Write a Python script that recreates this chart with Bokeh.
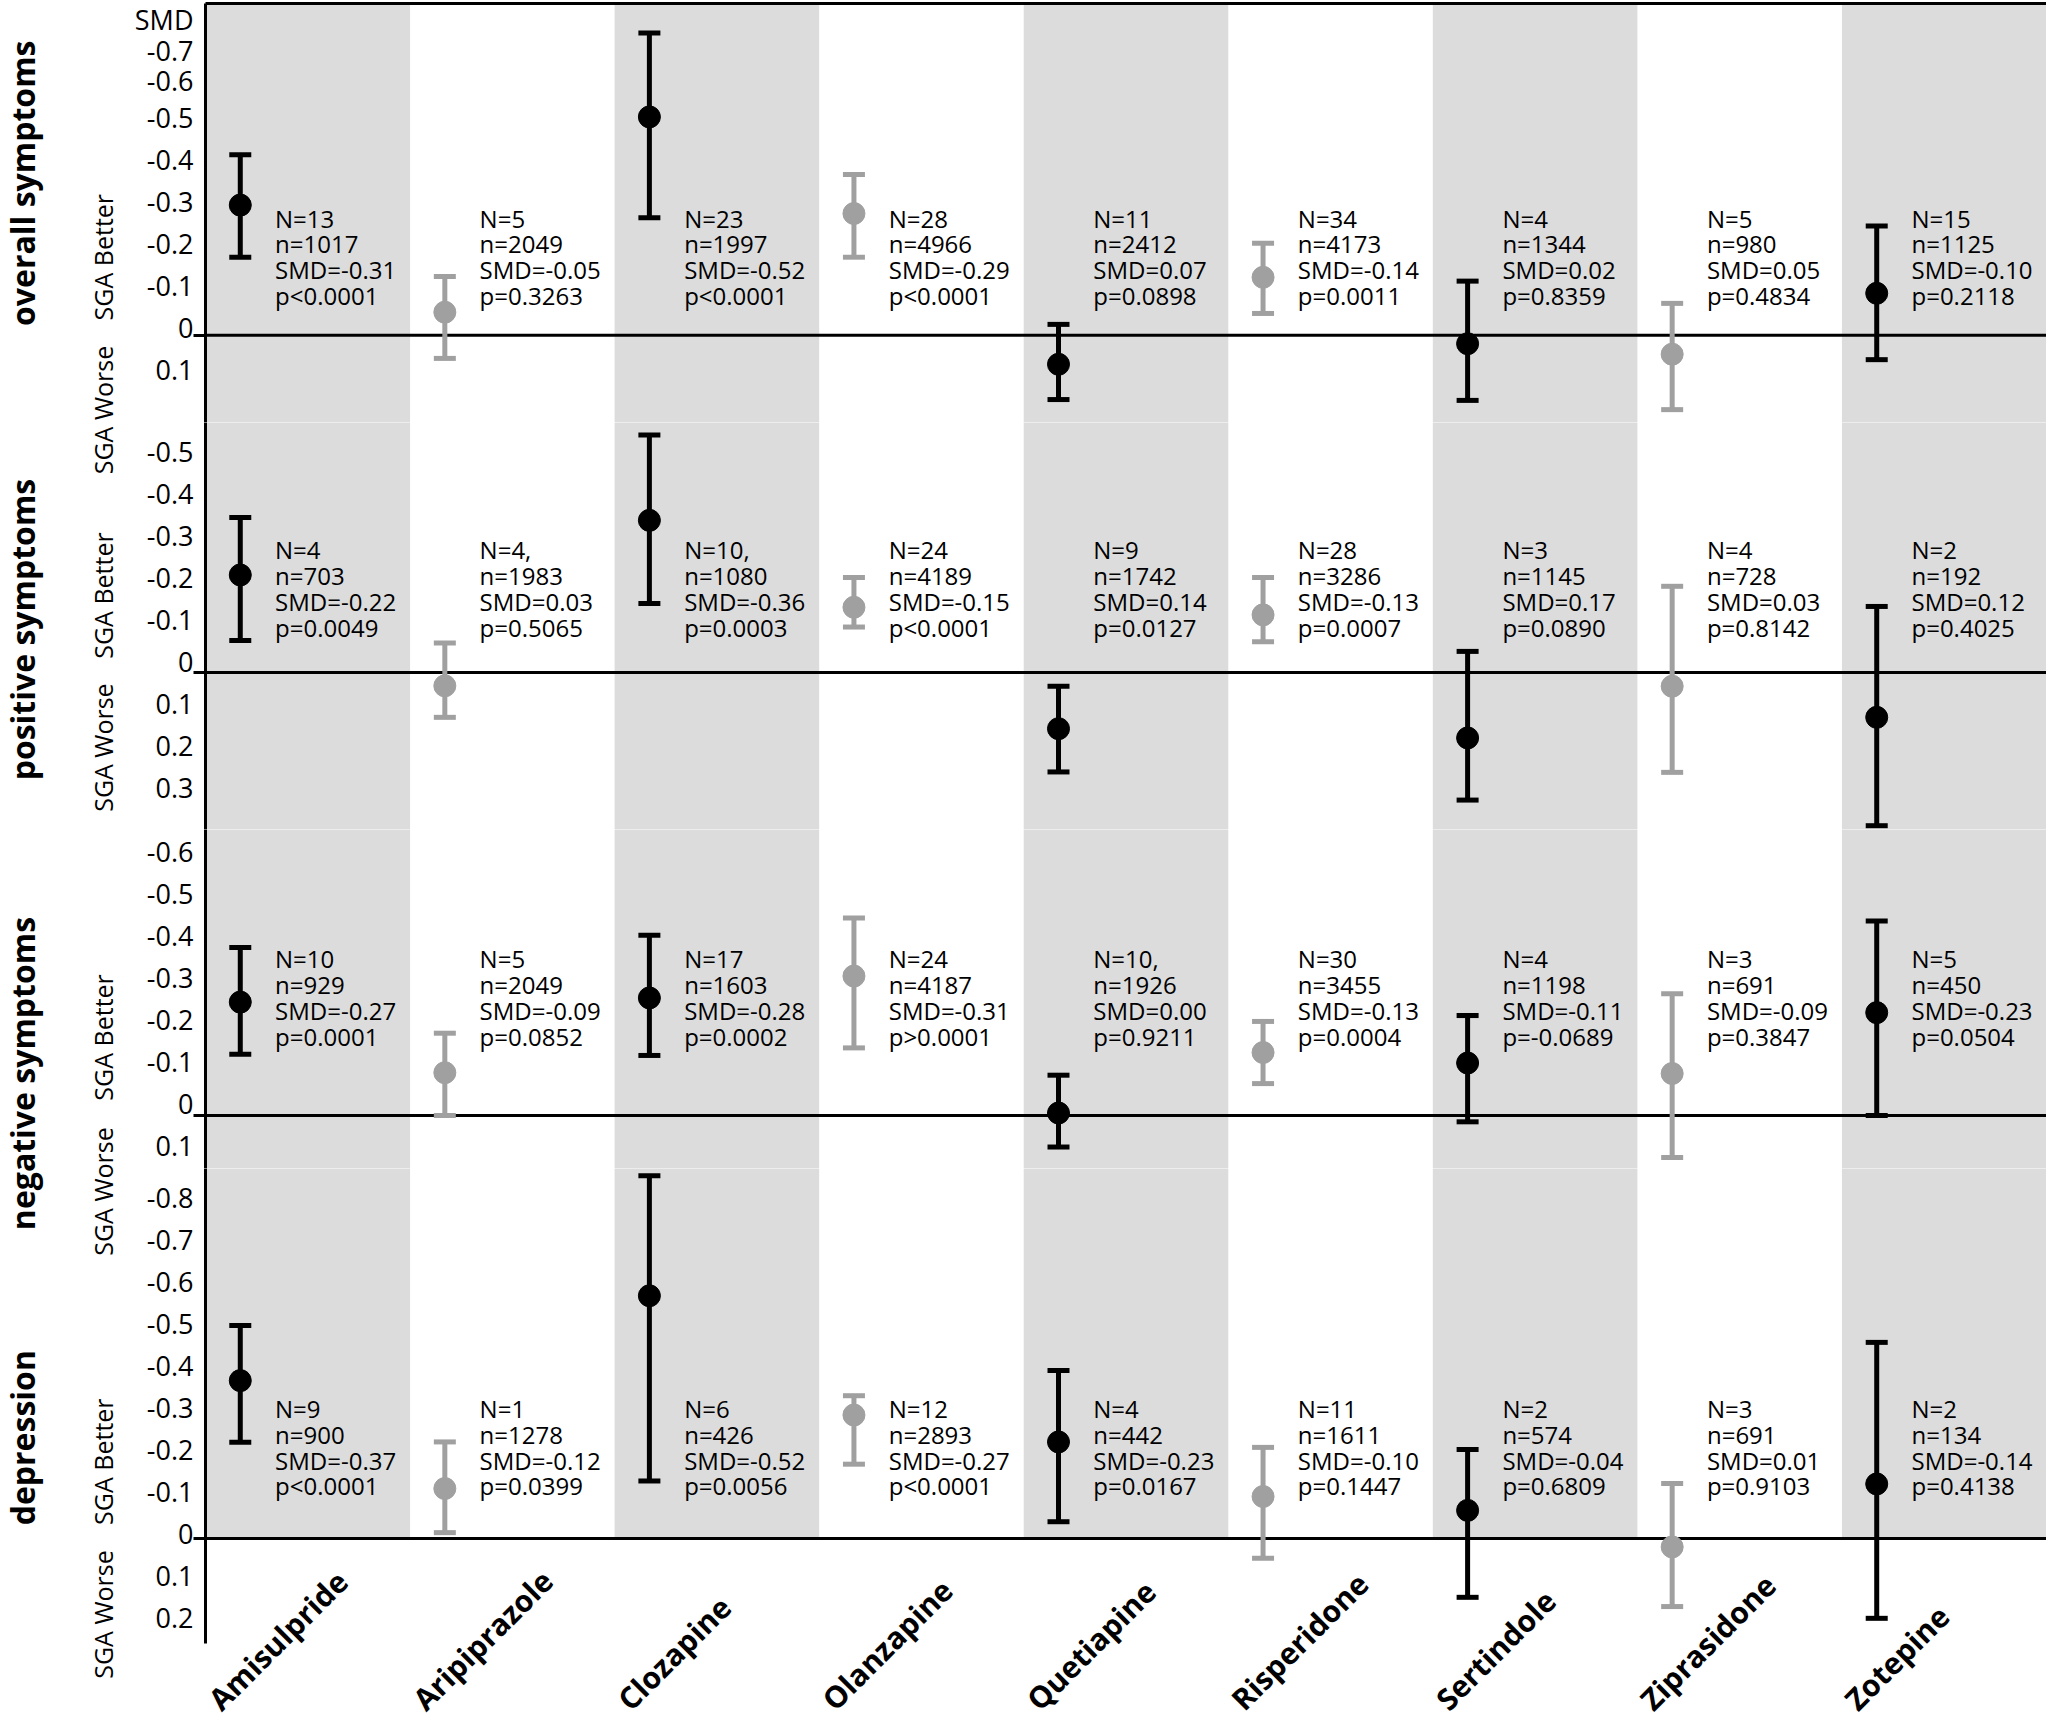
import math
from bokeh.plotting import figure
from bokeh.layouts import row, column
from bokeh.models import Range1d, FixedTicker, LinearAxis, Span, Label, ColumnDataSource
from bokeh.embed import file_html
from bokeh.resources import INLINE
from bokeh.core.properties import value

# ---------------- data ----------------
drugs = ["Amisulpride", "Aripiprazole", "Clozapine", "Olanzapine", "Quetiapine",
         "Risperidone", "Sertindole", "Ziprasidone", "Zotepine"]
drug_shade = ["black", "grey", "black", "grey", "black", "grey", "black", "grey", "black"]

panel_titles = ["overall symptoms", "positive symptoms", "negative symptoms", "depression"]

# overall symptoms
overall_est = [-0.31, -0.055, -0.52, -0.29, 0.069, -0.138, 0.02, 0.045, -0.10]
overall_lo = [-0.43, -0.14, -0.72, -0.383, -0.026, -0.219, -0.129, -0.076, -0.26]
overall_hi = [-0.186, 0.055, -0.28, -0.186, 0.153, -0.052, 0.155, 0.177, 0.058]
overall_N = ["13", "5", "23", "28", "11", "34", "4", "5", "15"]
overall_n = ["1017", "2049", "1997", "4966", "2412", "4173", "1344", "980", "1125"]
overall_smd = ["-0.31", "-0.05", "-0.52", "-0.29", "0.07", "-0.14", "0.02", "0.05", "-0.10"]
overall_p = ["p<0.0001", "p=0.3263", "p<0.0001", "p<0.0001", "p=0.0898", "p=0.0011",
             "p=0.8359", "p=0.4834", "p=0.2118"]
overall_ticks = [-0.754, -0.7, -0.6, -0.5, -0.4, -0.3, -0.2, -0.1, 0.0, 0.1]
overall_tick_labels = ["SMD", "-0.7", "-0.6", "-0.5", "-0.4", "-0.3", "-0.2", "-0.1", "0", "0.1"]

# positive symptoms
positive_est = [-0.232, 0.032, -0.362, -0.155, 0.134, -0.137, 0.156, 0.033, 0.107]
positive_lo = [-0.369, -0.07, -0.565, -0.226, 0.033, -0.226, -0.05, -0.205, -0.157]
positive_hi = [-0.076, 0.107, -0.164, -0.108, 0.237, -0.073, 0.304, 0.238, 0.365]
positive_N = ["4", "4,", "10,", "24", "9", "28", "3", "4", "2"]
positive_n = ["703", "1983", "1080", "4189", "1742", "3286", "1145", "728", "192"]
positive_smd = ["-0.22", "0.03", "-0.36", "-0.15", "0.14", "-0.13", "0.17", "0.03", "0.12"]
positive_p = ["p=0.0049", "p=0.5065", "p=0.0003", "p<0.0001", "p=0.0127", "p=0.0007",
              "p=0.0890", "p=0.8142", "p=0.4025"]
positive_ticks = [-0.5, -0.4, -0.3, -0.2, -0.1, 0.0, 0.1, 0.2, 0.3]
positive_tick_labels = ["-0.5", "-0.4", "-0.3", "-0.2", "-0.1", "0", "0.1", "0.2", "0.3"]

# negative symptoms
negative_est = [-0.27, -0.102, -0.28, -0.332, -0.006, -0.15, -0.125, -0.10, -0.245]
negative_lo = [-0.40, -0.196, -0.429, -0.47, -0.096, -0.224, -0.238, -0.29, -0.463]
negative_hi = [-0.146, 0.0, -0.143, -0.161, 0.075, -0.076, 0.015, 0.10, 0.0]
negative_N = ["10", "5", "17", "24", "10,", "30", "4", "3", "5"]
negative_n = ["929", "2049", "1603", "4187", "1926", "3455", "1198", "691", "450"]
negative_smd = ["-0.27", "-0.09", "-0.28", "-0.31", "0.00", "-0.13", "-0.11", "-0.09", "-0.23"]
negative_p = ["p=0.0001", "p=0.0852", "p=0.0002", "p>0.0001", "p=0.9211", "p=0.0004",
              "p=-0.0689", "p=0.3847", "p=0.0504"]
negative_ticks = [-0.6, -0.5, -0.4, -0.3, -0.2, -0.1, 0.0, 0.1]
negative_tick_labels = ["-0.6", "-0.5", "-0.4", "-0.3", "-0.2", "-0.1", "0", "0.1"]

# depression
depression_est = [-0.376, -0.119, -0.578, -0.294, -0.23, -0.10, -0.067, 0.02, -0.13]
depression_lo = [-0.507, -0.23, -0.864, -0.34, -0.40, -0.217, -0.212, -0.131, -0.467]
depression_hi = [-0.229, -0.014, -0.137, -0.177, -0.04, 0.047, 0.14, 0.162, 0.19]
depression_N = ["9", "1", "6", "12", "4", "11", "2", "3", "2"]
depression_n = ["900", "1278", "426", "2893", "442", "1611", "574", "691", "134"]
depression_smd = ["-0.37", "-0.12", "-0.52", "-0.27", "-0.23", "-0.10", "-0.04", "0.01", "-0.14"]
depression_p = ["p<0.0001", "p=0.0399", "p=0.0056", "p<0.0001", "p=0.0167", "p=0.1447",
                "p=0.6809", "p=0.9103", "p=0.4138"]
depression_ticks = [-0.8, -0.7, -0.6, -0.5, -0.4, -0.3, -0.2, -0.1, 0.0, 0.1, 0.2]
depression_tick_labels = ["-0.8", "-0.7", "-0.6", "-0.5", "-0.4", "-0.3", "-0.2", "-0.1",
                          "0", "0.1", "0.2"]

# ---------------- layout / style ----------------
FONT = "Open Sans"
S = 420.0            # pixels per SMD unit
FRAME_W = 1841
LEFT_B = 85
LABEL_W = 120
TOP_B = 3
BAND = "#dcdcdc"
SHADE = {"black": "#000000", "grey": "#a0a0a0"}
MARK_OFF = 0.17
TEXT_OFF = 0.34

# pixel lift of each tick label above its value (as in the original artwork)
overall_lift = [0, -9, 3, 8, 8, 8, 8, 8, 8, 8]

panels = [
    dict(est=overall_est, lo=overall_lo, hi=overall_hi, N=overall_N, n=overall_n,
         smd=overall_smd, p=overall_p, ticks=overall_ticks, labels=overall_tick_labels,
         top=-0.79, h=419, axis_h=419, text_y=-0.187, lift=overall_lift,
         better=-0.186, worse=0.178, title_y=-0.362),
    dict(est=positive_est, lo=positive_lo, hi=positive_hi, N=positive_N, n=positive_n,
         smd=positive_smd, p=positive_p, ticks=positive_ticks, labels=positive_tick_labels,
         top=-0.595, h=407, axis_h=407, text_y=-0.20, lift=10,
         better=-0.183, worse=0.179, title_y=-0.102),
    dict(est=negative_est, lo=negative_lo, hi=negative_hi, N=negative_N, n=negative_n,
         smd=negative_smd, p=negative_p, ticks=negative_ticks, labels=negative_tick_labels,
         top=-0.681, h=339, axis_h=339, text_y=-0.281, lift=12,
         better=-0.186, worse=0.181, title_y=-0.10),
    dict(est=depression_est, lo=depression_lo, hi=depression_hi, N=depression_N, n=depression_n,
         smd=depression_smd, p=depression_p, ticks=depression_ticks, labels=depression_tick_labels,
         top=-0.881, h=552, axis_h=475, text_y=-0.217, lift=5,
         better=-0.183, worse=0.181, title_y=-0.24),
]

colors = [SHADE[s] for s in drug_shade]
figs = []
for k, sp in enumerate(panels):
    last = (k == len(panels) - 1)
    bottom = sp["top"] + sp["h"] / S
    axis_bottom = sp["top"] + sp["axis_h"] / S
    p = figure(frame_width=FRAME_W, frame_height=sp["h"],
               x_range=Range1d(0, len(drugs)), y_range=Range1d(bottom, sp["top"]),
               output_backend="svg", toolbar_location=None,
               x_axis_location=None, y_axis_location="left",
               min_border_left=LEFT_B, min_border_right=0,
               min_border_top=TOP_B if k == 0 else 0, min_border_bottom=0,
               outline_line_color=None, background_fill_color="white",
               border_fill_color="white")
    p.grid.visible = False

    # shaded columns
    gi = [i for i in range(len(drugs)) if i % 2 == 0]
    p.quad(left=gi, right=[i + 1 for i in gi],
           top=[sp["top"] - 0.1] * len(gi),
           bottom=[0.0 if last else bottom + 0.1] * len(gi),
           fill_color=BAND, line_color=None, level="image")

    p.add_layout(Span(location=0, dimension="width", line_color="black",
                      line_width=3, level="underlay"))

    xs = [i + MARK_OFF for i in range(len(drugs))]
    src = ColumnDataSource(dict(x=xs, est=sp["est"], lo=sp["lo"], hi=sp["hi"], c=colors))
    p.segment(x0="x", y0="lo", x1="x", y1="hi", source=src, line_color="c",
              line_width=5, line_cap="butt")
    p.scatter(x="x", y="lo", source=src, marker="dash", size=22, line_color="c",
              line_width=5, line_cap="butt")
    p.scatter(x="x", y="hi", source=src, marker="dash", size=22, line_color="c",
              line_width=5, line_cap="butt")
    p.scatter(x="x", y="est", source=src, marker="circle", size=22, fill_color="c",
              line_color="c", line_width=1)

    texts = ["N=%s\nn=%s\nSMD=%s\n%s" % (a, b, c, d)
             for a, b, c, d in zip(sp["N"], sp["n"], sp["smd"], sp["p"])]
    tsrc = ColumnDataSource(dict(x=[i + TEXT_OFF for i in range(len(drugs))],
                                 y=[sp["text_y"]] * len(drugs), t=texts))
    p.text(x="x", y="y", text="t", source=tsrc, text_font=value(FONT),
           text_font_size="24px", text_baseline="middle", text_align="left",
           text_line_height=0.78, text_color="black")

    lifts = sp["lift"] if isinstance(sp["lift"], list) else [sp["lift"]] * len(sp["ticks"])
    tick_pos = [t - l / S for t, l in zip(sp["ticks"], lifts)]
    ax = p.yaxis[0]
    ax.ticker = FixedTicker(ticks=tick_pos, minor_ticks=[0.0])
    ax.major_label_overrides = {t: l for t, l in zip(tick_pos, sp["labels"])}
    ax.bounds = (sp["top"], axis_bottom)
    ax.axis_line_width = 3
    ax.axis_line_color = "black"
    ax.major_tick_line_color = None
    ax.major_tick_out = 0
    ax.major_tick_in = 0
    ax.minor_tick_line_color = "black"
    ax.minor_tick_line_width = 3
    ax.minor_tick_out = 12
    ax.minor_tick_in = 0
    ax.major_label_standoff = 0
    ax.major_label_text_font = FONT
    ax.major_label_text_font_size = "27px"
    ax.major_label_text_color = "black"

    if k == 0:
        top_axis = LinearAxis(ticker=FixedTicker(ticks=[]), axis_line_width=3,
                              axis_line_color="black", major_tick_line_color=None,
                              minor_tick_line_color=None, major_label_standoff=0,
                              major_tick_out=0, minor_tick_out=0)
        p.add_layout(top_axis, "above")

    if last:
        csrc = ColumnDataSource(dict(x=[i + 0.04 for i in range(len(drugs))],
                                     y=[axis_bottom + 0.145] * len(drugs), t=drugs))
        p.text(x="x", y="y", text="t", source=csrc, angle=math.pi / 4,
               text_align="left", text_baseline="alphabetic",
               text_font=value(FONT), text_font_style="bold",
               text_font_size="30px", text_color="black")
    figs.append(p)

# ---------------- left label strip ----------------
total_h = TOP_B + sum(sp["h"] for sp in panels)
lf = figure(frame_width=LABEL_W, frame_height=total_h,
            x_range=Range1d(0, LABEL_W), y_range=Range1d(0, 1),
            output_backend="svg", toolbar_location=None,
            x_axis_location=None, y_axis_location=None,
            min_border=0, outline_line_color=None)
lf.grid.visible = False
ranges = {}
offset = TOP_B
for k, sp in enumerate(panels):
    ranges["r%d" % k] = Range1d(start=sp["top"] + (total_h - offset) / S,
                                end=sp["top"] - offset / S)
    offset += sp["h"]
lf.extra_y_ranges = ranges
for k, sp in enumerate(panels):
    rn = "r%d" % k
    lf.add_layout(Label(x=22, y=sp["title_y"], y_range_name=rn, text=panel_titles[k],
                        angle=math.pi / 2, text_align="center", text_baseline="middle",
                        text_font=FONT, text_font_style="bold", text_font_size="32px",
                        text_color="black"))
    lf.add_layout(Label(x=102, y=sp["better"], y_range_name=rn, text="SGA Better",
                        angle=math.pi / 2, text_align="center", text_baseline="middle",
                        text_font=FONT, text_font_size="25px", text_color="black"))
    lf.add_layout(Label(x=102, y=sp["worse"], y_range_name=rn, text="SGA Worse",
                        angle=math.pi / 2, text_align="center", text_baseline="middle",
                        text_font=FONT, text_font_size="25px", text_color="black"))

layout = row(lf, column(*figs, spacing=0), spacing=0)
open("out.html", "w").write(file_html(layout, INLINE))
